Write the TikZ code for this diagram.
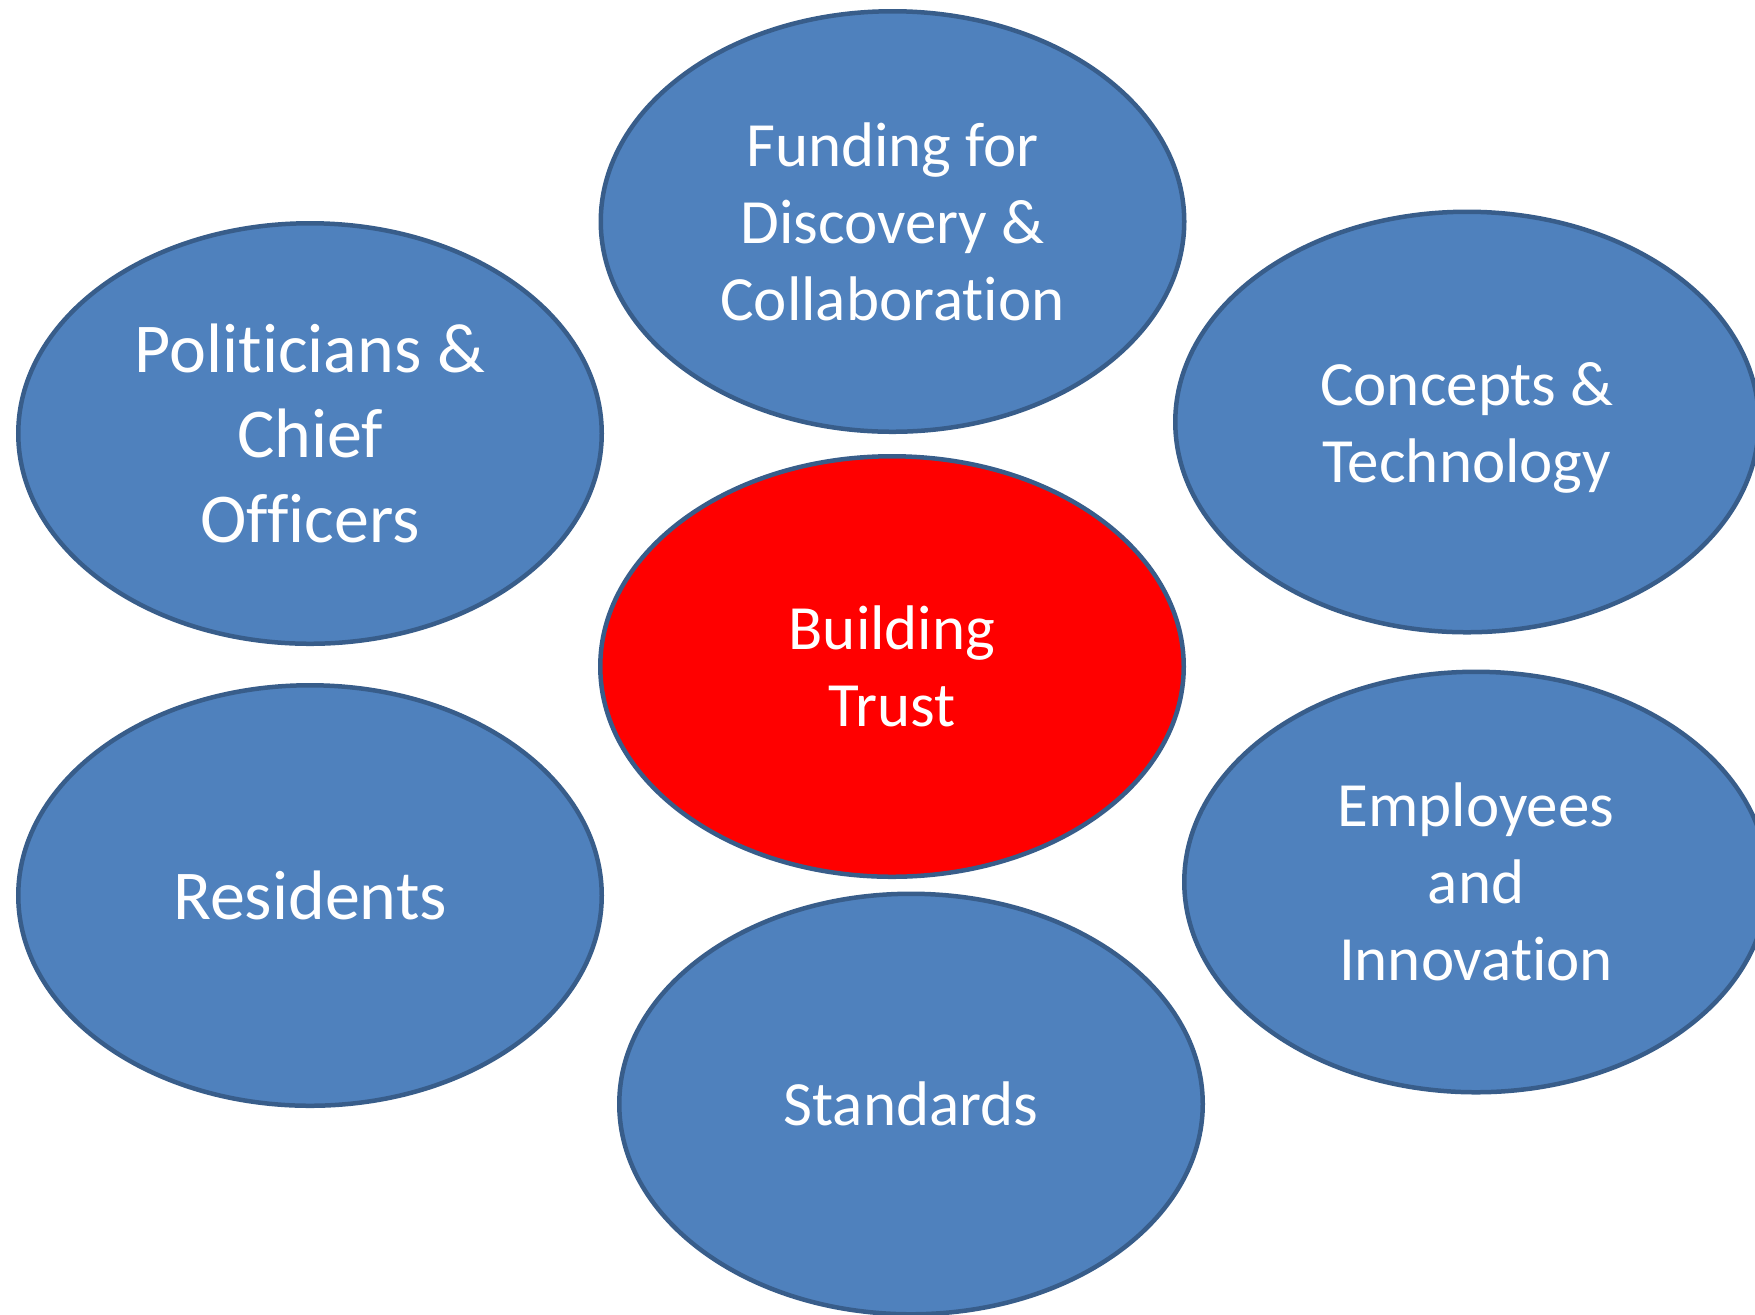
\documentclass[tikz,border=0pt]{standalone}
\usepackage{fontspec}
\setmainfont[Ligatures={NoCommon,NoContextual}]{Carlito}
\usetikzlibrary{shapes.geometric}
\definecolor{fillblue}{HTML}{4F81BD}
\definecolor{edgeblue}{HTML}{385D8A}
\definecolor{trustred}{HTML}{FF0000}
\tikzset{
  bubble/.style={ellipse, draw=edgeblue, line width=2.25pt, fill=fillblue,
    inner sep=0pt, minimum width=291.75pt, minimum height=210.25pt,
    text=white, align=center, font=\fontsize{31.5pt}{38.5pt}\selectfont},
  bigtext/.style={font=\fontsize{35pt}{42.5pt}\selectfont},
  redbubble/.style={bubble, fill=trustred}
}
\begin{document}
\begin{tikzpicture}[x=0.5pt,y=-0.5pt]
\useasboundingbox (0,0) rectangle (1755,1314);
\begin{scope}
\clip (0,0) rectangle (1755,1314);
\node[bubble] (fund) at (892.5,221.5) {Funding for\\Discovery \&\\Collaboration};
\node[bubble,bigtext] (pol) at (310,433.5) {Politicians \&\\Chief\\Officers};
\node[bubble] (conc) at (1467,422) {Concepts \&\\\raisebox{0pt}[\height][0pt]{Technology}};
\node[redbubble] (trust) at (892,666.5) {Building\\Trust};
\node[bubble,bigtext] (res) at (310,895.5) {Residents};
\node[bubble] (emp) at (1476,882) {Employees\\and\\Innovation};
\node[bubble] (std) at (911,1104) {Standards};
\end{scope}
\end{tikzpicture}
\end{document}
